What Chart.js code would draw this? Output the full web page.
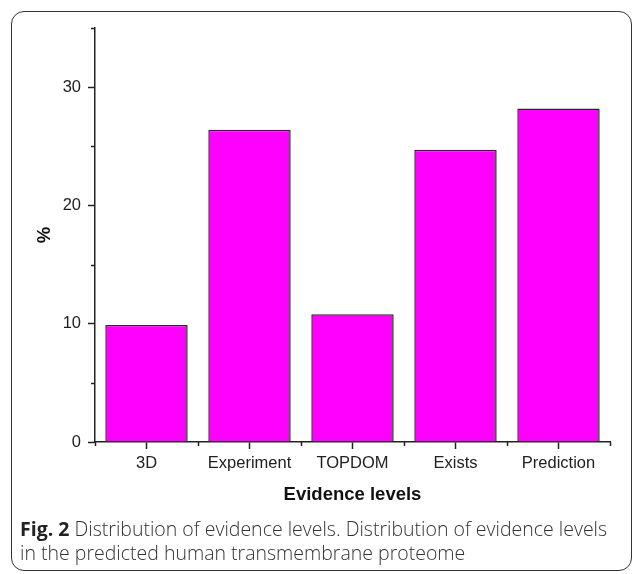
<!DOCTYPE html>
<html>
<head>
<meta charset="utf-8">
<script src="https://cdn.jsdelivr.net/npm/chart.js@4/dist/chart.umd.min.js"></script>
<style>
  body { margin: 0; background: #fff; }
  #wrap { position: relative; width: 636px; height: 574px; overflow: hidden; }
  #frame {
    position: absolute; left: 11px; top: 11px; width: 619px; height: 558px;
    border: 1.5px solid #333; border-radius: 13px;
  }
  #c { position: absolute; left: 0; top: 0; }
  #caption {
    position: absolute; left: 20px; top: 517px; width: 610px; white-space: nowrap;
    font-family: "Open Sans", sans-serif; font-size: 19.5px; font-weight: 300; line-height: 24px; color: #333;
  }
  #caption b { font-weight: bold; color: #222; }
</style>
</head>
<body>
<div id="wrap">
  <div id="frame"></div>
  <canvas id="c" width="636" height="520"></canvas>
  <div id="caption"><b>Fig. 2</b> Distribution of evidence levels. Distribution of evidence levels<br>in the predicted human transmembrane proteome</div>
</div>
<script>
var categories = ["3D", "Experiment", "TOPDOM", "Exists", "Prediction"];
var percentValues = [9.9, 26.4, 10.8, 24.7, 28.2];
var yMin = 0;
var yMax = 35;
var yStep = 5;
var majorEvery = 10;

var axisColor = "#222";

// short ticks: minor y ticks and category boundaries on x
var minorTicks = {
  id: "minorTicks",
  afterDraw: function(chart) {
    var ctx = chart.ctx;
    var xs = chart.scales.x;
    var ys = chart.scales.y;
    ctx.save();
    ctx.strokeStyle = axisColor;
    ctx.lineWidth = 1.5;
    ctx.beginPath();
    for (var v = yMin; v <= yMax; v += yStep) {
      if (v % majorEvery === 0) continue;
      var py = Math.round(ys.getPixelForValue(v)) + 0.5;
      ctx.moveTo(ys.right - 4, py);
      ctx.lineTo(ys.right, py);
    }
    for (var i = 0; i <= categories.length; i++) {
      var px = Math.round(xs.getPixelForValue(i - 0.5)) + 0.5;
      ctx.moveTo(px, xs.top);
      ctx.lineTo(px, xs.top + 4);
    }
    ctx.stroke();
    ctx.restore();
  }
};

new Chart(document.getElementById("c"), {
  type: "bar",
  data: {
    labels: categories,
    datasets: [{
      data: percentValues,
      backgroundColor: "#ff00ff",
      borderColor: "#2a2a2a",
      borderWidth: 1.5,
      categoryPercentage: 1,
      barPercentage: 0.8
    }]
  },
  options: {
    responsive: false,
    animation: false,
    devicePixelRatio: 1,
    layout: { padding: { left: 0, top: 28, right: 26, bottom: 0 } },
    plugins: { legend: { display: false }, tooltip: { enabled: false } },
    scales: {
      x: {
        offset: true,
        afterFit: function(s) { s.height = 78; },
        grid: { drawOnChartArea: false, offset: false, tickLength: 7, tickWidth: 1.5, tickColor: axisColor },
        border: { display: true, color: axisColor, width: 1.5 },
        ticks: { color: "#222", padding: 5, font: { family: "Liberation Sans, Arial", size: 16.5 } },
        title: {
          display: true, text: "Evidence levels", color: "#111",
          font: { family: "Liberation Sans, Arial", size: 18.5, weight: "bold" },
          padding: { top: 0, bottom: 14 }
        }
      },
      y: {
        min: yMin,
        max: yMax,
        afterFit: function(s) { s.width = 95; },
        grid: {
          drawOnChartArea: false, tickLength: 7, tickWidth: 1.5,
          tickColor: function(c) { return c.tick && c.tick.value % majorEvery === 0 ? axisColor : "rgba(0,0,0,0)"; }
        },
        border: { display: true, color: axisColor, width: 1.5 },
        ticks: {
          stepSize: yStep, color: "#222", padding: 7,
          font: { family: "Liberation Sans, Arial", size: 16.5 },
          callback: function(v) { return v % majorEvery === 0 ? v : ""; }
        },
        title: {
          display: true, text: "%", color: "#111",
          font: { family: "Liberation Sans, Arial", size: 18.5, weight: "bold" },
          padding: { top: 34, bottom: 0 }
        }
      }
    }
  },
  plugins: [minorTicks]
});
</script>
</body>
</html>
